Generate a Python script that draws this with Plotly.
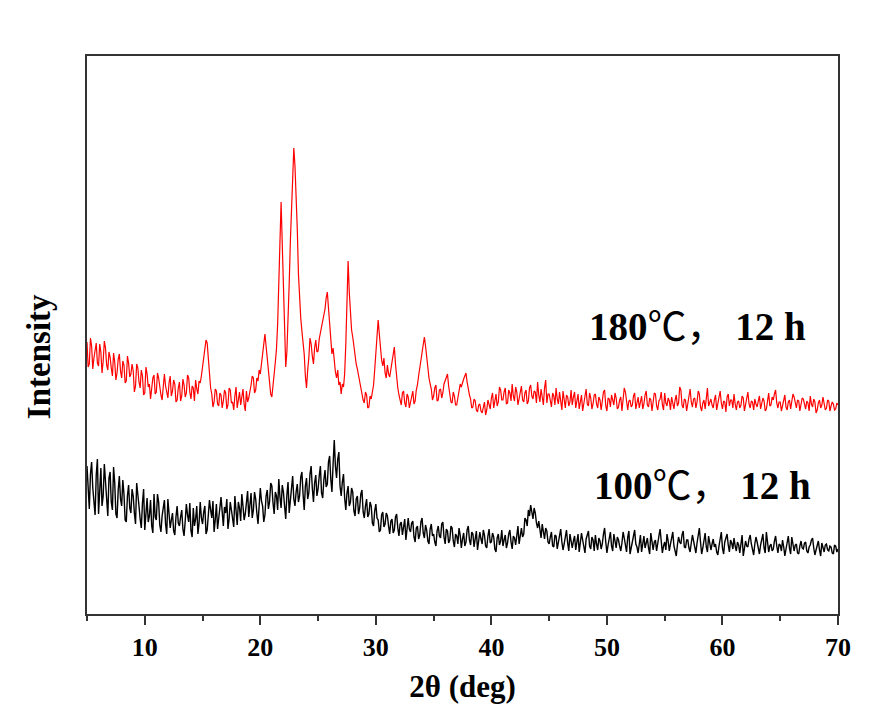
import numpy as np
import plotly.graph_objects as go

# 2-theta scan grid (deg): 5.0 to 70.0 in 0.1 deg steps
two_theta_start = 5.0
two_theta_step = 0.1

# Intensity (a.u.) for the sample treated at 180 °C for 12 h (one row = 2 deg)
intensity_180 = [
    272, 247, 250, 276, 268, 245, 256, 264, 271, 251, 248, 270, 262, 241, 253, 273, 266, 249, 244, 262,
    257, 246, 238, 261, 252, 234, 241, 255, 260, 243, 236, 253, 249, 231, 233, 258, 251, 237, 240, 250,
    243, 222, 228, 250, 246, 232, 226, 244, 238, 219, 221, 247, 240, 227, 230, 215, 224, 236, 239, 220,
    222, 241, 236, 225, 219, 214, 233, 240, 228, 221, 216, 231, 238, 218, 223, 234, 230, 212, 214, 226,
    232, 213, 218, 235, 229, 217, 221, 239, 236, 222, 215, 228, 226, 213, 234, 225, 220, 233, 231, 238,
    246, 258, 266, 274, 271, 252, 238, 226, 220, 207, 212, 225, 223, 210, 208, 221, 219, 206, 213, 224,
    221, 205, 209, 226, 224, 211, 212, 204, 218, 227, 206, 214, 222, 209, 215, 225, 210, 203, 223, 212,
    216, 222, 229, 238, 236, 221, 224, 236, 233, 244, 240, 250, 262, 271, 280, 268, 255, 238, 226, 220,
    217, 226, 240, 252, 265, 290, 328, 380, 412, 370, 318, 270, 247, 262, 288, 330, 372, 410, 440, 466,
    448, 420, 385, 340, 312, 296, 283, 270, 260, 238, 226, 244, 256, 276, 270, 258, 250, 266, 274, 262,
    263, 275, 281, 286, 294, 300, 305, 316, 322, 306, 288, 272, 260, 266, 252, 242, 236, 244, 229, 232,
    220, 230, 227, 240, 270, 315, 353, 322, 298, 284, 277, 266, 260, 250, 245, 238, 234, 226, 221, 214,
    211, 222, 219, 206, 207, 218, 215, 224, 229, 244, 263, 282, 294, 280, 266, 254, 248, 256, 241, 236,
    249, 240, 237, 246, 252, 260, 267, 250, 236, 226, 219, 214, 209, 221, 223, 211, 207, 220, 217, 206,
    211, 218, 223, 210, 213, 224, 229, 238, 246, 255, 262, 272, 277, 268, 256, 244, 236, 230, 225, 214,
    218, 226, 229, 213, 214, 224, 225, 216, 221, 230, 233, 236, 240, 228, 219, 212, 211, 222, 218, 209,
    209, 216, 221, 230, 227, 232, 235, 238, 241, 232, 224, 219, 215, 206, 207, 215, 213, 204, 202, 209,
    210, 203, 201, 208, 212, 199, 204, 214, 209, 205, 216, 221, 206, 213, 220, 208, 212, 227, 224, 214,
    214, 222, 226, 210, 211, 224, 221, 213, 230, 218, 213, 227, 222, 209, 216, 225, 228, 214, 212, 221,
    224, 210, 213, 226, 229, 218, 215, 223, 222, 211, 232, 219, 212, 225, 219, 209, 226, 234, 211, 220,
    220, 212, 207, 221, 218, 209, 226, 215, 210, 222, 215, 204, 223, 213, 206, 219, 217, 208, 212, 224,
    209, 217, 222, 206, 213, 220, 205, 212, 219, 203, 211, 218, 225, 210, 208, 221, 216, 205, 210, 219,
    220, 210, 206, 217, 214, 204, 211, 222, 224, 208, 203, 216, 215, 207, 219, 212, 209, 221, 216, 205,
    207, 214, 217, 203, 212, 226, 222, 210, 204, 213, 214, 207, 209, 218, 221, 205, 211, 217, 206, 213,
    218, 205, 210, 219, 223, 209, 207, 216, 214, 203, 212, 221, 220, 208, 204, 213, 215, 222, 209, 204,
    221, 211, 208, 216, 213, 204, 217, 210, 205, 214, 219, 208, 211, 227, 224, 209, 206, 215, 214, 203,
    210, 219, 225, 212, 207, 215, 216, 206, 212, 223, 220, 207, 203, 211, 214, 205, 218, 226, 208, 213,
    215, 209, 206, 214, 219, 204, 210, 218, 223, 211, 205, 213, 212, 202, 217, 220, 208, 214, 214, 206,
    220, 210, 204, 212, 213, 206, 209, 218, 216, 203, 211, 219, 222, 210, 206, 213, 212, 204, 215, 210,
    207, 213, 218, 205, 210, 216, 213, 203, 205, 215, 221, 208, 209, 217, 214, 220, 224, 211, 206, 212,
    212, 203, 208, 214, 219, 207, 204, 212, 214, 205, 211, 220, 217, 209, 206, 214, 213, 203, 209, 216,
    215, 208, 205, 213, 211, 203, 218, 210, 207, 215, 212, 201, 204, 211, 214, 206, 209, 217, 211, 204,
    206, 214, 213, 203, 208, 212, 210, 204, 205, 211, 209,
]

# Intensity (a.u.) for the sample treated at 100 °C for 12 h (one row = 2 deg)
intensity_100 = [
    148, 118, 105, 140, 152, 126, 112, 99, 139, 155, 100, 124, 146, 108, 118, 150, 132, 110, 98, 136,
    142, 112, 104, 147, 131, 100, 96, 124, 138, 115, 108, 134, 120, 94, 92, 118, 129, 106, 101, 125,
    118, 101, 90, 131, 122, 108, 95, 86, 111, 125, 84, 103, 116, 92, 98, 114, 88, 81, 120, 97,
    94, 120, 112, 89, 82, 98, 106, 114, 90, 80, 115, 102, 86, 94, 101, 83, 79, 97, 108, 91,
    88, 97, 104, 85, 78, 93, 110, 99, 92, 111, 83, 77, 106, 88, 95, 108, 80, 91, 112, 96,
    90, 102, 108, 80, 84, 99, 114, 104, 96, 113, 82, 94, 110, 85, 93, 106, 117, 98, 88, 107,
    101, 115, 85, 95, 112, 104, 96, 87, 118, 103, 89, 112, 106, 93, 120, 108, 94, 100, 110, 123,
    97, 110, 121, 96, 104, 122, 115, 101, 90, 108, 126, 113, 108, 92, 99, 118, 124, 105, 112, 131,
    128, 111, 100, 122, 118, 104, 135, 117, 106, 129, 122, 108, 95, 119, 132, 101, 114, 127, 138, 115,
    108, 122, 130, 112, 118, 137, 142, 120, 104, 128, 136, 115, 121, 140, 148, 126, 112, 131, 139, 118,
    125, 138, 148, 121, 116, 134, 144, 127, 130, 152, 158, 135, 122, 150, 174, 148, 136, 155, 162, 128,
    118, 132, 140, 116, 104, 121, 128, 108, 112, 126, 122, 103, 98, 115, 118, 100, 106, 120, 124, 102,
    96, 108, 115, 97, 100, 112, 108, 91, 88, 103, 110, 96, 94, 82, 84, 99, 102, 87, 90, 101,
    98, 88, 80, 93, 95, 81, 84, 97, 100, 86, 78, 90, 92, 79, 86, 95, 74, 83, 96, 85,
    82, 91, 93, 77, 72, 86, 88, 75, 79, 92, 96, 81, 76, 89, 84, 73, 70, 85, 90, 78,
    80, 72, 68, 83, 88, 78, 76, 90, 92, 77, 70, 85, 83, 71, 74, 88, 86, 73, 67, 80,
    78, 70, 86, 79, 66, 75, 81, 68, 72, 84, 88, 74, 69, 82, 80, 67, 74, 83, 64, 76,
    82, 75, 70, 84, 79, 68, 66, 78, 85, 71, 72, 81, 77, 65, 62, 76, 80, 69, 73, 84,
    68, 74, 79, 66, 71, 80, 84, 72, 65, 78, 76, 69, 82, 88, 70, 79, 86, 77, 80, 96,
    94, 88, 104, 98, 109, 102, 95, 106, 101, 91, 86, 93, 81, 76, 90, 82, 75, 86, 83, 72,
    70, 77, 82, 68, 67, 79, 78, 65, 73, 81, 85, 72, 64, 70, 77, 84, 71, 63, 80, 74,
    66, 73, 78, 64, 72, 80, 62, 70, 81, 74, 69, 61, 75, 79, 83, 68, 65, 77, 74, 63,
    79, 70, 64, 76, 73, 65, 70, 80, 86, 72, 61, 69, 75, 82, 68, 63, 80, 74, 66, 77,
    74, 68, 63, 71, 82, 76, 69, 62, 77, 83, 60, 67, 72, 78, 84, 70, 67, 61, 73, 79,
    62, 71, 78, 66, 70, 76, 66, 60, 81, 73, 64, 72, 74, 63, 69, 78, 85, 70, 61, 68,
    72, 64, 80, 73, 63, 70, 75, 82, 68, 61, 58, 69, 77, 72, 70, 79, 83, 67, 66, 74,
    74, 66, 62, 71, 79, 73, 68, 61, 71, 80, 86, 72, 60, 66, 73, 81, 67, 62, 78, 70,
    64, 70, 75, 67, 70, 62, 59, 68, 77, 82, 66, 60, 72, 76, 80, 69, 62, 74, 71, 65,
    76, 68, 63, 72, 69, 61, 74, 79, 58, 66, 73, 68, 67, 75, 79, 70, 64, 59, 70, 77,
    72, 66, 60, 69, 75, 80, 66, 61, 82, 74, 62, 68, 70, 63, 65, 73, 78, 68, 61, 70,
    69, 63, 74, 67, 58, 65, 71, 78, 66, 60, 77, 71, 63, 69, 70, 61, 60, 68, 73, 66,
    65, 71, 72, 63, 61, 67, 69, 74, 76, 66, 59, 64, 68, 73, 64, 58, 71, 67, 62, 69,
    70, 64, 63, 68, 67, 61, 60, 69, 68, 62, 65,
]

x_ticks = [10, 20, 30, 40, 50, 60, 70]
labels = [("180", "℃，", " 12 h"), ("100", "℃，", " 12 h")]
label_pos = [(48.3, 291), (48.75, 132)]  # (2θ, intensity) of each label's left-middle point

serif = "Liberation Serif, Times New Roman, Noto Sans CJK SC, serif"


def scan_axis(values):
    return np.round(two_theta_start + two_theta_step * np.arange(len(values)), 1)


fig = go.Figure()
fig.add_trace(go.Scatter(x=scan_axis(intensity_180), y=intensity_180, mode="lines",
                         line=dict(color="#ff0000", width=1.2), showlegend=False))
fig.add_trace(go.Scatter(x=scan_axis(intensity_100), y=intensity_100, mode="lines",
                         line=dict(color="#000000", width=1.4), showlegend=False))

for (temp, unit, dur), (lx, ly) in zip(labels, label_pos):
    text = (f"{temp}<span style='font-family:Noto Sans CJK SC;font-weight:normal'>{unit}</span>"
            f"{dur}")
    fig.add_annotation(x=lx, y=ly, xref="x", yref="y", text=text, showarrow=False,
                       xanchor="left", yanchor="middle",
                       font=dict(family=serif, size=39, color="black", weight="bold"))

# y-axis title, placed slightly below the middle of the frame
fig.add_annotation(x=-0.064, y=0.462, xref="paper", yref="paper", text="Intensity",
                   textangle=-90, showarrow=False, xanchor="center", yanchor="middle",
                   font=dict(family=serif, size=33, color="black", weight="bold"))

fig.update_layout(
    width=875, height=709,
    margin=dict(l=87, r=37, t=56, b=95),
    paper_bgcolor="white", plot_bgcolor="white",
    font=dict(family=serif, color="black"),
)
fig.update_xaxes(
    range=[5, 70], tickvals=x_ticks, ticks="outside", ticklen=9, tickwidth=2,
    tickcolor="#333", showline=True, linecolor="#333", linewidth=2, mirror=True,
    showgrid=False, zeroline=False,
    tickfont=dict(family=serif, size=26, color="black", weight="bold"),
    minor=dict(dtick=5, tick0=5, ticks="outside", ticklen=5, tickwidth=2, tickcolor="#333"),
    title=dict(text="2θ (deg)", standoff=14,
               font=dict(family=serif, size=31, color="black", weight="bold")),
)
fig.update_yaxes(
    range=[0, 558], showticklabels=False, ticks="", showline=True, linecolor="#333",
    linewidth=2, mirror=True, showgrid=False, zeroline=False,
)

fig.write_html("out.html")
